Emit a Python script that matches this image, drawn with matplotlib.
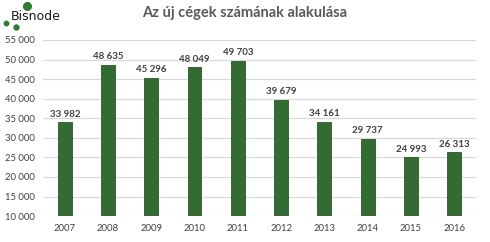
import matplotlib.pyplot as plt
from matplotlib.lines import Line2D
from matplotlib.ticker import FuncFormatter

years = ['2007', '2008', '2009', '2010', '2011', '2012', '2013', '2014', '2015', '2016']
new_firms = [33982, 48635, 45296, 48049, 49703, 39679, 34161, 29737, 24993, 26313]
yticks = [10000, 15000, 20000, 25000, 30000, 35000, 40000, 45000, 50000, 55000]

plt.rcParams['font.family'] = ['Lato', 'DejaVu Sans']

fig = plt.figure(figsize=(4.9, 2.42), dpi=100)
ax = fig.add_axes([0.088, 0.107, 0.883, 0.728])

x = range(len(years))
bars = ax.bar(x, [v - 10000 for v in new_firms], bottom=10000, width=0.32,
              color='#336B33', edgecolor='#2A5A2A', linewidth=0.6, zorder=3)

def fmt(v):
    return '{:,}'.format(int(v)).replace(',', ' ')

for xi, v in zip(x, new_firms):
    ax.text(xi, v + 900, fmt(v), ha='center', va='bottom', fontsize=7,
            fontweight='bold', color='#404040')

ax.set_ylim(10000, 55000)
ax.set_xlim(-0.5, len(years) - 0.5)
ax.set_yticks(yticks)
ax.yaxis.set_major_formatter(FuncFormatter(lambda v, p: fmt(v)))
ax.set_xticks(list(x))
ax.set_xticklabels(years)
ax.tick_params(axis='both', length=0, labelsize=6.8, colors='#404040')
ax.tick_params(axis='y', pad=6)
ax.tick_params(axis='x', pad=6)
ax.grid(axis='y', color='#D9D9D9', linewidth=0.9, zorder=0)
for s in ax.spines.values():
    s.set_visible(False)

fig.text(0.5, 0.945, 'Az új cégek számának alakulása', ha='center', va='center',
         fontsize=10.5, fontweight='bold', color='#595959')

# logo
fig.text(0.022, 0.932, 'Bisnode', ha='left', va='center', fontsize=9,
         color='#1A1A1A', family=['DejaVu Sans'])
for (lx, ly, ms) in [(27, 6, 5.5), (6, 22.5, 3.2), (16, 27, 3.6)]:
    fig.add_artist(Line2D([lx / 490], [1 - ly / 242], marker='o', markersize=ms,
                          color='#2E7D32', linestyle='none',
                          transform=fig.transFigure))

fig.savefig('out.png', dpi=100)
